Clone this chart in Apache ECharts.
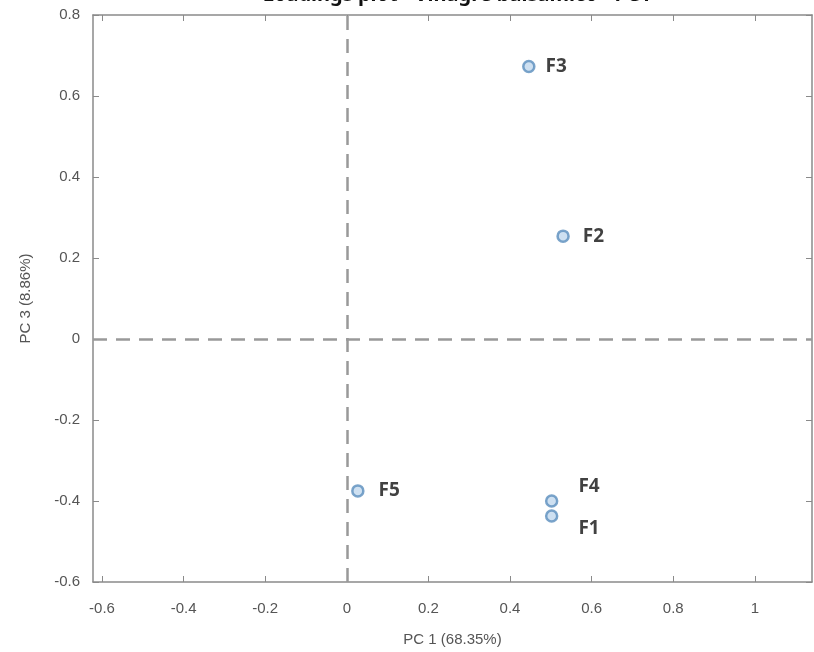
<!DOCTYPE html>
<html>
<head>
<meta charset="utf-8">
<script src="https://cdn.jsdelivr.net/npm/echarts@6/dist/echarts.min.js"></script>
<style>html,body{margin:0;padding:0;background:#fff}#c{width:814px;height:652px}</style>
</head>
<body>
<div id="c"></div>
<script>
var names = ['F1', 'F2', 'F3', 'F4', 'F5'];
var pc1 = [0.502, 0.530, 0.446, 0.502, 0.027];
var pc3 = [-0.437, 0.254, 0.673, -0.400, -0.375];
var xTicks = [-0.6, -0.4, -0.2, 0, 0.2, 0.4, 0.6, 0.8, 1];
var yTicks = [-0.6, -0.4, -0.2, 0, 0.2, 0.4, 0.6, 0.8];
var titleText = 'Loadings plot - Vinagre balsâmico - PC1';
var xName = 'PC 1 (68.35%)';
var yName = 'PC 3 (8.86%)';

var labelPos = {F1: [15, 13], F2: [8, 0], F3: [5, 0], F4: [15, -14], F5: [9, 0]};

var data = names.map(function (n, i) {
  return {
    value: [pc1[i], pc3[i]],
    name: n,
    label: {offset: labelPos[n]}
  };
});

var lineCol = '#8a8a8a';
var tickLabel = {color: '#555', fontSize: 15, fontFamily: 'Liberation Sans, Arial, sans-serif'};

var chart = echarts.init(document.getElementById('c'), null, {renderer: 'canvas'});
chart.setOption({
  backgroundColor: '#fff',
  animation: false,
  title: {
    text: titleText,
    left: 452, top: -20, textAlign: 'center',
    textStyle: {fontSize: 20, fontWeight: 'bold', color: '#111', fontFamily: 'Noto Sans, sans-serif'}
  },
  grid: {left: 93, top: 15, right: 2, bottom: 69},
  xAxis: [{
    type: 'value', min: -0.622, max: 1.14, position: 'bottom',
    name: xName, nameLocation: 'middle', nameGap: 50,
    nameTextStyle: {color: '#555', fontSize: 15, fontFamily: 'Liberation Sans, Arial, sans-serif'},
    axisLine: {show: true, onZero: false, lineStyle: {color: lineCol, width: 1.5}},
    axisTick: {show: true, inside: true, length: 6, customValues: xTicks, lineStyle: {color: lineCol}},
    axisLabel: Object.assign({customValues: xTicks, margin: 19, formatter: function (v) { return String(+v.toFixed(2)); }}, tickLabel),
    splitLine: {show: false}
  }, {
    type: 'value', min: -0.622, max: 1.14, position: 'top',
    axisLine: {show: true, onZero: false, lineStyle: {color: lineCol, width: 1.5}},
    axisTick: {show: true, inside: true, length: 6, customValues: xTicks, lineStyle: {color: lineCol}},
    axisLabel: {show: false},
    splitLine: {show: false}
  }],
  yAxis: [{
    type: 'value', min: -0.6, max: 0.8, interval: 0.2, position: 'left',
    name: yName, nameLocation: 'middle', nameGap: 60,
    nameTextStyle: {color: '#555', fontSize: 15, fontFamily: 'Liberation Sans, Arial, sans-serif'},
    axisLine: {show: true, onZero: false, lineStyle: {color: lineCol, width: 1.5}},
    axisTick: {show: true, inside: true, length: 6, lineStyle: {color: lineCol}},
    axisLabel: Object.assign({margin: 13, formatter: function (v) { return String(+v.toFixed(2)); }}, tickLabel),
    splitLine: {show: false}
  }, {
    type: 'value', min: -0.6, max: 0.8, interval: 0.2, position: 'right',
    axisLine: {show: true, onZero: false, lineStyle: {color: lineCol, width: 1.5}},
    axisTick: {show: true, inside: true, length: 6, lineStyle: {color: lineCol}},
    axisLabel: {show: false},
    splitLine: {show: false}
  }],
  series: [{
    type: 'scatter',
    data: data,
    symbol: 'circle',
    symbolSize: 11,
    itemStyle: {color: 'rgba(120,170,215,0.45)', borderColor: '#5a8dbd', borderWidth: 2.5},
    label: {
      show: true, position: 'right', formatter: '{b}',
      color: '#111', fontSize: 19, fontWeight: 'bold', fontFamily: 'Noto Sans, sans-serif'
    },
    markLine: {
      silent: true, symbol: 'none', animation: false,
      label: {show: false},
      lineStyle: {color: '#999', type: [14, 9], width: 2.5},
      data: [{xAxis: 0}, {yAxis: 0}]
    },
    z: 5
  }]
});
</script>
</body>
</html>
